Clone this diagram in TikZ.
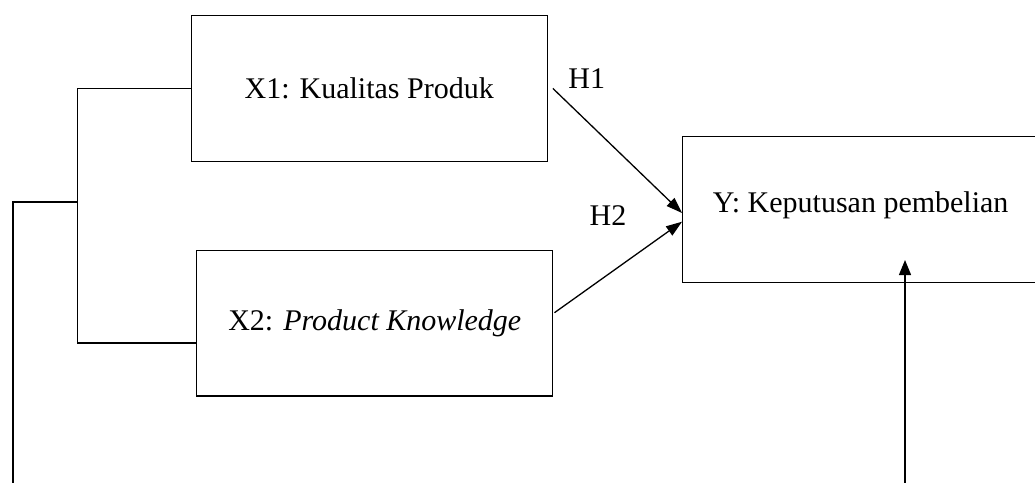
\documentclass[tikz,border=0pt]{standalone}
\usepackage{fontspec}
\setmainfont{Liberation Serif}
\usetikzlibrary{arrows.meta,calc}
\tikzset{
  varbox/.style={draw, line width=1.3pt, minimum width=356pt, minimum height=145.5pt, inner sep=0pt},
  link/.style={line width=1.3pt},
  hyp/.style={line width=1.3pt, -{Triangle[length=16pt,width=11pt]}}
}
\begin{document}
\begin{tikzpicture}[x=1pt,y=-1pt]
  \clip (0,0) rectangle (1035,482);
  {\fontsize{30}{36}\selectfont

  % Drawing box X1
  \node [varbox] (X1) at (369.2,88.4) {X1: Kualitas Produk};%

  % Drawing box X2
  \node [varbox] (X2) at (374.8,323.2) {X2: \textit{Product Knowledge}};%

  % Drawing box Y
  \node [varbox, text depth=14pt] (Y) at (860.7,209.5) {Y: Keputusan pembelian};%

  % Coordinates of the bracket
  \coordinate (bt) at (77.7,88.4);%
  \coordinate (bm) at (77.7,202);%
  \coordinate (bb) at (77.7,343);%
  \coordinate (x2in) at (X2.west |- bb);%
  \coordinate (left) at (13,202);%
  \coordinate (leftend) at (13,490);%
  \coordinate (upend) at (905,490);%
  \coordinate (uptip) at (905,260);%

  % Drawing bracket
  \draw [link] (X1.west) -- (bt) -- (bb) -- (x2in);%
  \draw [link] (bm) -- (left) -- (leftend);%

  % Drawing arrows H1 and H2
  \draw [hyp] ($(X1.east)+(5,0)$) -- ($(Y.west)+(0,3.5)$);%
  \draw [hyp] ($(X2.east)+(1,-10.5)$) -- ($(Y.west)+(0,12.2)$);%
  \node (H1) at (586.7,79) {H1};%
  \node (H2) at (608,215.7) {H2};%

  % Drawing arrow from below
  \draw [link, -{Triangle[length=15pt,width=12pt]}] (upend) -- (uptip);%
  }
\end{tikzpicture}
\end{document}
